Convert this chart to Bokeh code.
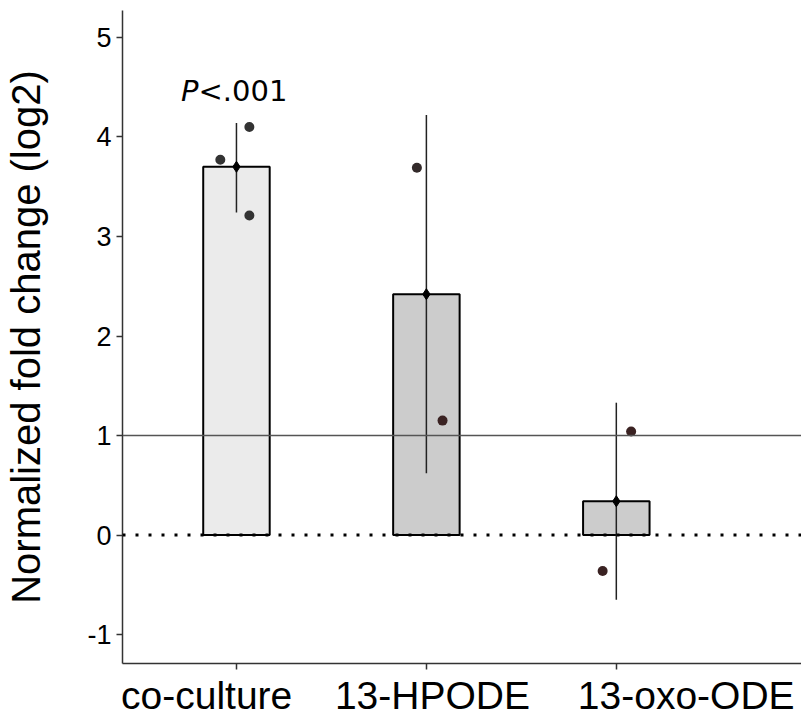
from bokeh.plotting import figure
from bokeh.models import FixedTicker, Span, ColumnDataSource, Range1d, LinearAxis
from bokeh.core.properties import value
from bokeh.embed import file_html
from bokeh.resources import INLINE

categories = ["co-culture", "13-HPODE", "13-oxo-ODE"]
cat_pos = [1, 2, 3]
label_pos = [0.843, 2.032, 3.368]
means = [3.70, 2.42, 0.34]
err_low = [3.24, 0.62, -0.65]
err_high = [4.14, 4.22, 1.33]
bar_colors = ["#ebebeb", "#cccccc", "#cccccc"]

pt_cat = [1, 1, 1, 2, 2, 3, 3]
pt_jitter = [-0.085, 0.068, 0.068, -0.05, 0.085, 0.078, -0.072]
pt_vals = [3.77, 4.10, 3.21, 3.69, 1.15, 1.04, -0.36]
pt_colors = ["#333333", "#333333", "#333333", "#332a2a", "#3a2222", "#3a2222", "#3a2222"]

y_ticks = [-1, 0, 1, 2, 3, 4, 5]
y_tick_labels = ["-1", "0", "1", "2", "3", "4", "5"]
ref_line = 1
p_label_italic = "P"
p_label_rest = "<.001"
p_label_x = 1
p_label_y = 4.46

FONT = "Liberation Sans"

p = figure(frame_width=679, frame_height=653, output_backend="svg", toolbar_location=None,
           x_range=Range1d(0.4, 3.975), y_range=Range1d(-1.29, 5.27),
           x_axis_location=None,
           min_border_left=122, min_border_top=10, min_border_right=0, min_border_bottom=50)
p.outline_line_color = None
p.xgrid.visible = False
p.ygrid.visible = False
p.background_fill_color = "white"

# bars
bar_src = ColumnDataSource(dict(x=cat_pos, top=means, color=bar_colors))
p.vbar(x="x", top="top", bottom=0, width=0.35, fill_color="color",
       line_color="black", line_width=2, source=bar_src)

# reference lines
p.add_layout(Span(location=0, dimension="width", line_color="black",
                  line_width=3, line_dash="3 10"))
p.add_layout(Span(location=ref_line, dimension="width", line_color="#555555",
                  line_width=1.5))

# error bars
p.segment(x0=cat_pos, y0=err_low, x1=cat_pos, y1=err_high, line_color="#222222", line_width=1.5)
p.scatter(x=cat_pos, y=means, marker="diamond", size=11, color="black")

# points
pxs = [c + j for c, j in zip(pt_cat, pt_jitter)]
p.scatter(x=pxs, y=pt_vals, size=10, color=pt_colors, line_color=None)

# p-value label
p.text(x=[p_label_x], y=[p_label_y], text=[p_label_italic], x_offset=-38,
       text_align="right", text_baseline="alphabetic", text_font=value("DejaVu Sans"),
       text_font_style="italic", text_font_size="29px", text_color="black")
p.text(x=[p_label_x], y=[p_label_y], text=[p_label_rest], x_offset=-38,
       text_align="left", text_baseline="alphabetic", text_font=value("DejaVu Sans"),
       text_font_size="29px", text_color="black")

# y axis
p.yaxis.ticker = FixedTicker(ticks=y_ticks)
p.yaxis.major_label_overrides = {t: l for t, l in zip(y_ticks, y_tick_labels)}
p.yaxis.axis_label = "Normalized fold change (log2)"
p.yaxis.axis_label_text_font = FONT
p.yaxis.axis_label_text_font_size = "40px"
p.yaxis.axis_label_text_font_style = "normal"
p.yaxis.axis_label_text_color = "black"
p.yaxis.axis_label_standoff = 36
p.yaxis.major_label_text_font = FONT
p.yaxis.major_label_text_font_size = "27px"
p.yaxis.major_label_text_color = "black"
p.yaxis.major_label_standoff = 5
p.yaxis.minor_tick_line_color = None
p.yaxis.major_tick_in = 0
p.yaxis.major_tick_out = 6

# x axis: line + ticks at the bars
xa = LinearAxis(ticker=FixedTicker(ticks=cat_pos),
                major_label_overrides={c: "" for c in cat_pos},
                major_label_text_font_size="1px", major_label_standoff=0,
                major_tick_in=0, major_tick_out=6, minor_tick_line_color=None)
p.add_layout(xa, "below")
# x axis: category labels
xl = LinearAxis(ticker=FixedTicker(ticks=label_pos),
                major_label_overrides={c: l for c, l in zip(label_pos, categories)},
                major_label_text_font=FONT, major_label_text_font_size="39px",
                major_label_text_color="black", major_label_standoff=4,
                major_tick_line_color=None, major_tick_in=0, major_tick_out=0,
                minor_tick_line_color=None, axis_line_color=None)
p.add_layout(xl, "below")

for ax in (xa, p.yaxis[0]):
    ax.axis_line_color = "#333333"
    ax.axis_line_width = 1.5
    ax.major_tick_line_color = "#333333"
    ax.major_tick_line_width = 1.5

open("out.html", "w").write(file_html(p, INLINE))
